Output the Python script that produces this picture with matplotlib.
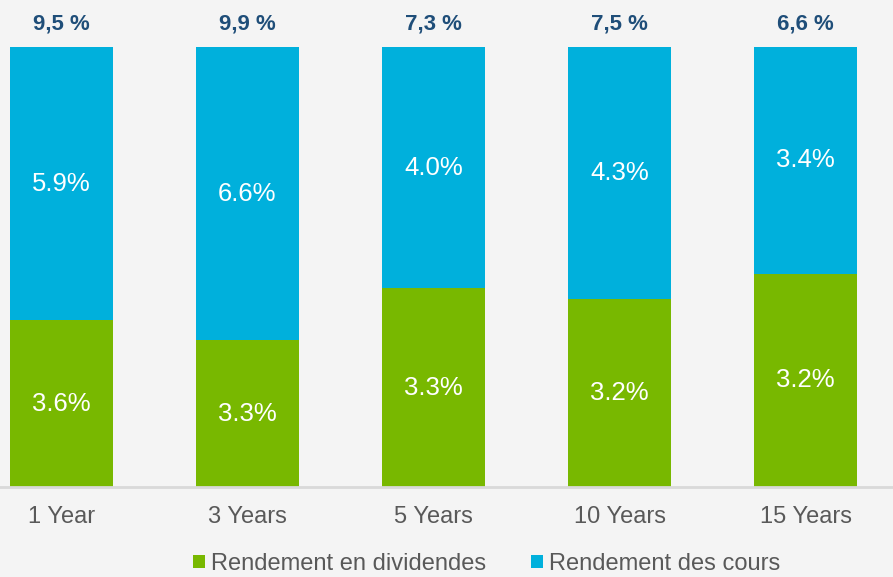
import matplotlib
matplotlib.use("Agg")
import matplotlib.pyplot as plt
import numpy as np

# data
categories = ["1 Year", "3 Years", "5 Years", "10 Years", "15 Years"]
dividend = [3.6, 3.3, 3.3, 3.2, 3.2]
price = [5.9, 6.6, 4.0, 4.3, 3.4]
totals = ["9,5 %", "9,9 %", "7,3 %", "7,5 %", "6,6 %"]
total_vals = [9.5, 9.9, 7.3, 7.5, 6.6]

GREEN = "#78b800"
BLUE = "#00b0dc"
DARKBLUE = "#1f4e79"
BG = "#f4f4f4"
FONT = ["Liberation Sans", "DejaVu Sans"]

fig = plt.figure(figsize=(8.93, 5.77), dpi=100, facecolor=BG)
ax = fig.add_axes([0, 90 / 577, 1, 440 / 577])
ax.set_facecolor(BG)

x = np.arange(len(categories))
div_frac = np.array(dividend) / np.array(total_vals)
price_frac = 1 - div_frac

ax.bar(x, div_frac, width=0.555, color=GREEN, label="Rendement en dividendes")
ax.bar(x, price_frac, width=0.555, bottom=div_frac, color=BLUE, label="Rendement des cours")

for i in range(len(x)):
    ax.text(x[i], div_frac[i] / 2, f"{dividend[i]:.1f}%", ha="center", va="center",
            color="white", fontsize=18.5, family=FONT)
    ax.text(x[i], div_frac[i] + price_frac[i] / 2, f"{price[i]:.1f}%", ha="center", va="center",
            color="white", fontsize=18.5, family=FONT)
    ax.text(x[i], 1.053, totals[i], ha="center", va="center", color=DARKBLUE,
            fontsize=16, fontweight="bold", family=FONT, clip_on=False)

ax.set_xlim(-0.33, 4.47)
ax.set_ylim(0, 1)
ax.set_yticks([])
ax.set_xticks(x)
ax.set_xticklabels(categories, fontsize=17, color="#595959", family=FONT)
ax.tick_params(axis="x", length=0, pad=14)
for s in ["top", "right", "left"]:
    ax.spines[s].set_visible(False)
ax.spines["bottom"].set_color("#d9d9d9")
ax.spines["bottom"].set_linewidth(2)

fig.legend(loc="lower center", bbox_to_anchor=(0.545, -0.033), ncol=2, frameon=False,
           prop={"family": FONT, "size": 17}, labelcolor="#595959",
           handlelength=0.5, handleheight=0.5, handletextpad=0.25, columnspacing=1.9)

fig.savefig("out.png", dpi=100, facecolor=BG)
